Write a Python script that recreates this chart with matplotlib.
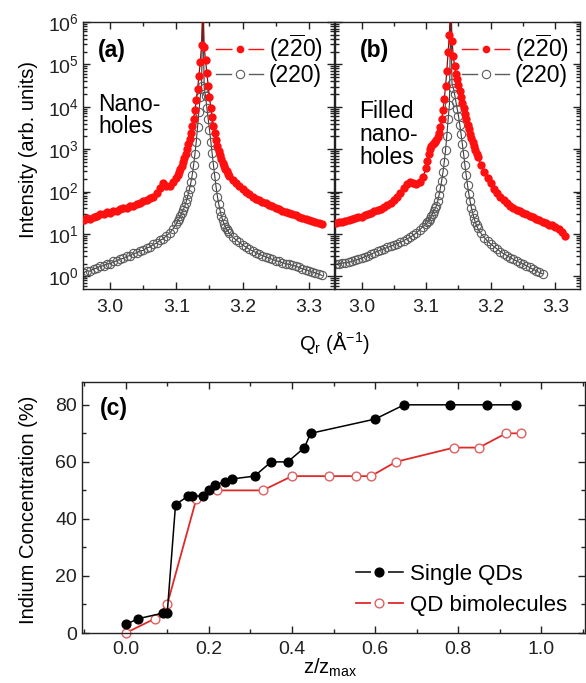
import numpy as np
import matplotlib
matplotlib.use('Agg')
import matplotlib.pyplot as plt
from matplotlib.ticker import MultipleLocator, LogLocator, NullFormatter
from matplotlib.lines import Line2D
from matplotlib.legend_handler import HandlerTuple

plt.rcParams['font.family'] = ['Liberation Sans', 'DejaVu Sans']
plt.rcParams['mathtext.fontset'] = 'custom'
plt.rcParams['mathtext.rm'] = 'Liberation Sans'
plt.rcParams['mathtext.it'] = 'Liberation Sans:italic'
plt.rcParams['mathtext.bf'] = 'Liberation Sans:bold'
plt.rcParams['axes.linewidth'] = 1.0

# ---------------- data: XRD scans (Q_r in 1/Angstrom, log10 intensity) ----------------
q_left = [2.960, 2.965, 2.970, 2.975, 2.980, 2.985, 2.990, 2.995, 3.000, 3.005,
          3.010, 3.015, 3.020, 3.025, 3.030, 3.035, 3.040, 3.045, 3.050, 3.055,
          3.060, 3.065, 3.070, 3.075, 3.080, 3.085, 3.090, 3.095]
q_peak = [3.100, 3.102, 3.104, 3.106, 3.108, 3.110, 3.112, 3.114, 3.116, 3.118,
          3.120, 3.122, 3.124, 3.126, 3.128, 3.130, 3.132, 3.134, 3.136, 3.138,
          3.140, 3.142, 3.144, 3.146, 3.148, 3.150, 3.152, 3.154, 3.156, 3.158,
          3.160, 3.162, 3.164, 3.166, 3.168, 3.170, 3.172, 3.174, 3.176, 3.178,
          3.180]
q_right = [3.185, 3.190, 3.195, 3.200, 3.205, 3.210, 3.215, 3.220, 3.225, 3.230,
           3.235, 3.240, 3.245, 3.250, 3.255, 3.260, 3.265, 3.270, 3.275, 3.280,
           3.285, 3.290, 3.295, 3.300, 3.305, 3.310, 3.315, 3.320]
q_scan = q_left + q_peak + q_right

nan = float('nan')

# (a) Nano-holes
a_red_log = [1.33, 1.37, 1.36, 1.41, 1.43, 1.47, 1.46, 1.51, 1.50, 1.55,
             1.54, 1.58, 1.61, 1.60, 1.65, 1.66, 1.71, 1.72, 1.77, 1.79,
             1.85, 1.88, 1.96, 2.08, 2.20, 2.14, 2.13, 2.22,
             2.33, 2.40, 2.46, 2.53, 2.61, 2.70, 2.79, 2.89, 3.00, 3.11,
             3.24, 3.38, 3.54, 3.72, 3.92, 4.15, 4.42, 4.72, 5.05, 5.45,
             6.60, 5.40, 5.10, 4.80, 4.50, 4.22, 3.97, 3.75, 3.55, 3.38,
             3.22, 3.08, 2.96, 2.86, 2.77, 2.68, 2.61, 2.54, 2.48, 2.42, 2.37,
             2.28, 2.20, 2.12, 2.05, 1.99, 1.93, 1.88, 1.83, 1.79, 1.75,
             1.72, 1.68, 1.65, 1.62, 1.58, 1.55, 1.52, 1.49, 1.46, 1.44,
             1.41, 1.38, 1.36, 1.33, 1.30, 1.28, 1.25, 1.23]
a_gray_log = [0.08, 0.13, 0.12, 0.18, 0.19, 0.24, 0.25, 0.29, 0.30, 0.35,
              0.36, 0.41, 0.42, 0.47, 0.49, 0.54, 0.55, 0.60, 0.61, 0.67,
              0.69, 0.75, 0.78, 0.85, 0.88, 0.96, 1.02, 1.12,
              1.24, 1.30, 1.36, 1.42, 1.49, 1.56, 1.63, 1.72, 1.82, 1.94,
              2.07, 2.22, 2.40, 2.62, 2.88, 3.18, 3.52, 3.88, 4.22, 4.50,
              6.30, 4.45, 4.25, 3.98, 3.72, 3.45, 3.18, 2.90, 2.62, 2.36,
              2.10, 1.88, 1.70, 1.55, 1.42, 1.32, 1.24, 1.17, 1.11, 1.06, 1.01,
              0.93, 0.86, 0.80, 0.74, 0.69, 0.64, 0.60, 0.56, 0.52, 0.49,
              0.46, 0.43, 0.40, 0.37, 0.35, 0.32, 0.30, 0.28, 0.26, 0.24,
              0.21, 0.18, 0.16, 0.13, 0.10, 0.08, 0.05, 0.02]

# (b) Filled nano-holes
b_red_log = [1.26, 1.28, 1.29, 1.31, 1.33, 1.35, 1.37, 1.39, 1.41, 1.44,
             1.47, 1.50, 1.53, 1.56, 1.59, 1.63, 1.68, 1.73, 1.80, 1.88,
             1.97, 2.08, 2.18, 2.22, 2.19, 2.17, 2.22, 2.35,
             2.55, 2.72, 2.88, 3.00, 3.07, 3.11, 3.14, 3.17, 3.21, 3.28,
             3.38, 3.52, 3.70, 3.92, 4.18, 4.48, 4.85, 5.30, 5.70, 6.60,
             5.55, 5.20, 4.95, 4.78, 4.65, 4.52, 4.38, 4.24, 4.10, 3.96,
             3.83, 3.70, 3.58, 3.47, 3.36, 3.26, 3.16, 3.07, 2.98, 2.89, 2.81,
             2.63, 2.47, 2.32, 2.19, 2.07, 1.96, 1.87, 1.79, 1.72, 1.66,
             1.61, 1.57, 1.53, 1.50, 1.46, 1.43, 1.40, 1.36, 1.33, 1.29,
             1.26, 1.22, 1.20, 1.17, 1.12, 1.05, 0.95, nan]
b_gray_log = [0.28, 0.30, 0.31, 0.32, 0.33, 0.35, 0.38, 0.40, 0.43, 0.46,
              0.49, 0.52, 0.56, 0.59, 0.62, 0.65, 0.68, 0.71, 0.74, 0.77,
              0.80, 0.84, 0.88, 0.92, 0.97, 1.02, 1.10, 1.17,
              1.23, 1.27, 1.31, 1.36, 1.42, 1.48, 1.54, 1.60, 1.67, 1.78,
              1.92, 2.08, 2.25, 2.45, 2.70, 2.98, 3.32, 3.70, 4.05, 6.30,
              4.55, 4.45, 4.30, 4.12, 3.95, 3.78, 3.58, 3.36, 3.12, 2.88,
              2.62, 2.38, 2.15, 1.95, 1.77, 1.62, 1.49, 1.38, 1.28, 1.20, 1.13,
              1.01, 0.91, 0.83, 0.76, 0.70, 0.64, 0.58, 0.53, 0.49, 0.44,
              0.40, 0.36, 0.32, 0.29, 0.25, 0.21, 0.17, 0.13, 0.09, 0.06,
              nan, nan, nan, nan, nan, nan, nan, nan]

# ---------------- data: indium concentration ----------------
single_z = [0.0, 0.03, 0.09, 0.10, 0.12, 0.15, 0.16, 0.185, 0.20, 0.215, 0.24,
            0.255, 0.31, 0.35, 0.39, 0.43, 0.445, 0.60, 0.67, 0.78, 0.87, 0.94]
single_in = [3, 5, 7, 7, 45, 48, 48, 48, 50, 52, 53, 54, 55, 60, 60, 65, 70,
             75, 80, 80, 80, 80]
bimol_z = [0.0, 0.07, 0.10, 0.17, 0.22, 0.33, 0.40, 0.49, 0.555, 0.59, 0.65,
           0.79, 0.85, 0.915, 0.95]
bimol_in = [0, 5, 10, 47, 50, 50, 55, 55, 55, 55, 60, 65, 65, 70, 70]

label_bar = r'(2$\overline{\mathregular{2}}$0)'
label_220 = '(220)'
series_c = ['Single QDs', 'QD bimolecules']

# ---------------- figure ----------------
W, H = 586, 683
fig = plt.figure(figsize=(W / 100, H / 100), dpi=100)


def fx(px):
    return px / W


def fy(py):
    return 1 - py / H


axa = fig.add_axes([fx(83), fy(289), 251 / W, 267 / H])
axb = fig.add_axes([fx(335), fy(289), 245 / W, 267 / H])
axc = fig.add_axes([fx(82), fy(633), 503 / W, 251 / H])

RED = '#ff1010'
GRAY = '#5c5c5c'
TFS = 14      # tick labels
LFS = 14.5    # axis labels
AFS = 16.5    # annotations / legends


def gap_handle(color, lw, ms, mfc, mec, mew):
    """Origin-style legend symbol: line interrupted around the marker."""
    line = Line2D([], [], color=color, lw=lw)
    halo = Line2D([], [], ls='none', marker='o', ms=ms + 6, mfc='white',
                  mec='white', mew=0)
    mark = Line2D([], [], ls='none', marker='o', ms=ms, mfc=mfc, mec=mec,
                  mew=mew)
    return (line, halo, mark)


q_arr = np.array(q_scan)
for ax, red, gray in [(axa, a_red_log, a_gray_log), (axb, b_red_log, b_gray_log)]:
    ax.plot(q_arr, 10 ** np.array(gray), color='#3c3c3c', lw=0.8, marker='o',
            ms=6.0, mfc='none', mec=GRAY, mew=0.8, zorder=2)
    ax.plot(q_arr, 10 ** np.array(red), color='#8a1010', lw=0.9, marker='o',
            ms=6.0, mfc=RED, mec=RED, mew=0, zorder=3)
    ax.set_yscale('log')
    ax.set_ylim(10 ** -0.3, 1e6)
    ax.set_xlim(2.959, 3.338)
    ax.xaxis.set_major_locator(MultipleLocator(0.1))
    ax.xaxis.set_minor_locator(MultipleLocator(0.05))
    ax.yaxis.set_major_locator(LogLocator(base=10, numticks=20))
    ax.yaxis.set_minor_locator(LogLocator(base=10, subs=np.arange(2, 10), numticks=20))
    ax.yaxis.set_minor_formatter(NullFormatter())
    ax.tick_params(which='both', direction='in', top=True, right=True,
                   labelsize=TFS, width=1.0, colors='#222222')
    ax.tick_params(which='major', length=5)
    ax.tick_params(which='minor', length=3)
    ax.xaxis.set_major_formatter(plt.FuncFormatter(lambda v, p: f'{v:.1f}'))
    ax.tick_params(axis='x', pad=7)
    handles = [gap_handle(RED, 1.0, 5.5, RED, RED, 0),
               gap_handle(GRAY, 1.0, 6.0, 'white', GRAY, 0.8)]
    leg = ax.legend(handles, [label_bar, label_220], loc='upper right',
                    bbox_to_anchor=(1.01, 1.012), frameon=False, fontsize=AFS,
                    handlelength=2.05, handletextpad=0.25, labelspacing=0.0,
                    borderaxespad=0.2,
                    handler_map={tuple: HandlerTuple(ndivide=1)})
    leg.set_zorder(5)

axb.tick_params(axis='y', labelleft=False)
axa.tick_params(axis='y', pad=3)

axa.text(0.06, 0.869, '(a)', transform=axa.transAxes, fontsize=AFS,
         fontweight='bold')
axa.text(0.06, 0.584, 'Nano-\nholes', transform=axa.transAxes, fontsize=AFS,
         linespacing=0.95)
axb.text(0.10, 0.869, '(b)', transform=axb.transAxes, fontsize=AFS,
         fontweight='bold')
axb.text(0.10, 0.468, 'Filled\nnano-\nholes', transform=axb.transAxes,
         fontsize=AFS, linespacing=1.0)

fig.text(fx(28), fy(150), 'Intensity (arb. units)', rotation=90, ha='center',
         va='center', fontsize=LFS)
fig.text(fx(334), fy(342), r'Q$_\mathregular{r}$ (Å$^{\mathregular{-1}}$)',
         ha='center', va='center', fontsize=LFS)

# ---------------- panel (c) ----------------
axc.plot(single_z, single_in, color='black', lw=1.1, marker='o', ms=6.3,
         mfc='black', mec='black', zorder=3, clip_on=False, label=series_c[0])
axc.plot(bimol_z, bimol_in, color='#e02a2a', lw=1.3, marker='o', ms=6.3,
         mfc='white', mec='#e06060', mew=1.0, zorder=2, clip_on=False,
         label=series_c[1])
axc.set_xlim(-0.105, 1.105)
axc.set_ylim(0, 88)
axc.xaxis.set_major_locator(MultipleLocator(0.2))
axc.xaxis.set_minor_locator(MultipleLocator(0.1))
axc.yaxis.set_major_locator(MultipleLocator(20))
axc.yaxis.set_minor_locator(MultipleLocator(10))
axc.xaxis.set_major_formatter(plt.FuncFormatter(lambda v, p: f'{v:.1f}'))
axc.tick_params(which='both', direction='in', top=True, right=True,
                labelsize=TFS, width=1.0, colors='#222222')
axc.tick_params(which='major', length=5)
axc.tick_params(which='minor', length=3)
axc.tick_params(axis='x', pad=6)
hc = [gap_handle('black', 1.1, 6.3, 'black', 'black', 1.0),
      gap_handle('#e02a2a', 1.3, 6.3, 'white', '#e06060', 1.0)]
axc.legend(hc, series_c, loc='lower right', bbox_to_anchor=(1.005, -0.01),
           frameon=False, fontsize=AFS - 0.5, handlelength=2.1,
           handletextpad=0.35, labelspacing=0.45,
           handler_map={tuple: HandlerTuple(ndivide=1)})
axc.text(0.035, 0.87, '(c)', transform=axc.transAxes, fontsize=AFS,
         fontweight='bold')
fig.text(fx(28), fy(510), 'Indium Concentration (%)', rotation=90,
         ha='center', va='center', fontsize=LFS)
fig.text(fx(330), fy(668), r'z/z$_{\mathregular{max}}$', ha='center',
         va='center', fontsize=LFS)

for ax in (axa, axb, axc):
    for s in ax.spines.values():
        s.set_color('#222222')

fig.savefig('out.png', dpi=100)
